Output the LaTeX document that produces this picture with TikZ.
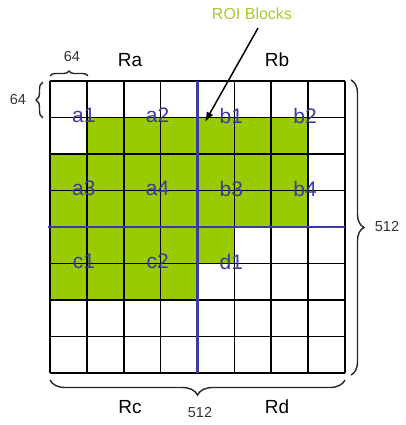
\documentclass[tikz,border=0pt]{standalone}
\usepackage{fontspec}
\setmainfont{Liberation Sans}
\usetikzlibrary{arrows.meta,positioning,decorations.pathreplacing}
\definecolor{roigreen}{HTML}{99CC00}
\definecolor{roitext}{HTML}{A2CC2E}
\definecolor{splitblue}{HTML}{3B3BA0}
\definecolor{dimgray}{HTML}{333333}

\begin{document}
\begin{tikzpicture}[x=1pt, y=-1pt,
    gridline/.style={draw=black, line width=1.6pt},
    splitline/.style={draw=splitblue, line width=2.4pt},
    blocklabel/.style={text=splitblue, font=\fontsize{21}{21}\selectfont, inner sep=0pt, xshift=-3pt, yshift=2pt},
    region/.style={font=\fontsize{19}{19}\selectfont, inner sep=0pt},
    dim/.style={text=dimgray, font=\fontsize{14.5}{14.5}\selectfont, inner sep=0pt},
    bracket/.style={draw=black!85, line width=1.4pt, decorate, decoration={brace, amplitude=#1}},
    arrow/.style={-{Latex[length=3.5mm, width=2.6mm]}, line width=1.5pt, draw=black}
]
\useasboundingbox (0,0) rectangle (406,425);

% ROI area
\fill[roigreen] (86.875,117.5) -- (308.125,117.5) -- (308.125,227) -- (234.375,227)
    -- (234.375,263.5) -- (197.5,263.5) -- (197.5,300) -- (50,300) -- (50,154)
    -- (86.875,154) -- cycle;

% 8x8 blocks
\foreach \i in {0,...,8} {
  \draw[gridline] (50+36.875*\i,81) -- (50+36.875*\i,373);
  \draw[gridline] (50,81+36.5*\i) -- (345,81+36.5*\i);
}

% quadrant split
\draw[splitline] (197.5,81) -- (197.5,373);
\draw[splitline] (48,227) -- (345,227);

% block labels
\node[blocklabel] (a1) at (86.875,117.5) {a1};
\node[blocklabel] (a2) at (160.625,117.5) {a2};
\node[blocklabel] (b1) at (234.375,117.5) {b1};
\node[blocklabel] (b2) at (308.125,117.5) {b2};
\node[blocklabel] (a3) at (86.875,190.5) {a3};
\node[blocklabel] (a4) at (160.625,190.5) {a4};
\node[blocklabel] (b3) at (234.375,190.5) {b3};
\node[blocklabel] (b4) at (308.125,190.5) {b4};
\node[blocklabel] (c1) at (86.875,263.5) {c1};
\node[blocklabel] (c2) at (160.625,263.5) {c2};
\node[blocklabel] (d1) at (234.375,263.5) {d1};

% regions
\node[region] (ra) at (130,60) {Ra};
\node[region] (rb) at (277,60) {Rb};
\node[region] (rc) at (130,407) {Rc};
\node[region] (rd) at (277,407) {Rd};

% ROI pointer
\node[text=roitext, font=\fontsize{16}{16}\selectfont, inner sep=0pt] (roi) at (252,14) {ROI Blocks};
\coordinate (roitip) at (205,122);
\draw[arrow] ([xshift=6pt, yshift=-8pt]roi.south) -- (roitip);

% sizes
\draw[bracket=5pt] (50,76) -- (88,76);
\node[dim] (topsize) at (72,57) {64};
\draw[bracket=7pt] (43,118) -- (43,82);
\node[dim] (leftsize) at (18,100) {64};
\draw[bracket=13pt] (351,80) -- (351,375);
\node[dim] (rightsize) at (387,227) {512};
\draw[bracket=15pt] (345,380) -- (50,380);
\node[dim] (botsize) at (200,413) {512};
\end{tikzpicture}
\end{document}
